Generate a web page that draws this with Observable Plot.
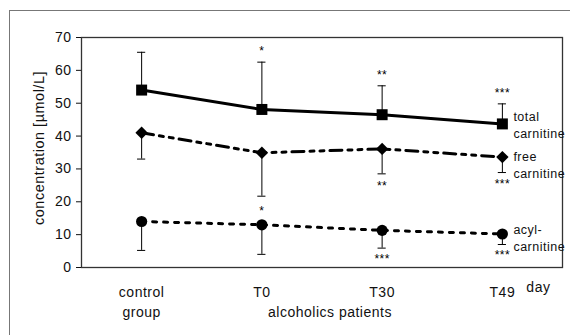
<!DOCTYPE html>
<html>
<head>
<meta charset="utf-8">
<script src="https://cdn.jsdelivr.net/npm/d3@7"></script>
<script src="https://cdn.jsdelivr.net/npm/@observablehq/plot@0.6"></script>
<style>
  html, body { margin: 0; padding: 0; background: #fff; }
  #wrap { position: relative; width: 570px; height: 335px; overflow: hidden; }
  #outer { position: absolute; left: 9px; top: 10px; width: 600px; height: 400px;
           border-left: 1px solid #777; border-top: 1px solid #777; }
  #chart { position: absolute; left: 0; top: 0; }
  #chart svg text { letter-spacing: 0.5px; }
</style>
</head>
<body>
<div id="wrap"><div id="outer"></div><div id="chart"></div></div>
<script>
const groups = ["control", "T0", "T30", "T49"];
const groupLabels = ["control\ngroup", "T0", "T30", "T49"];
const yTicks = [0, 10, 20, 30, 40, 50, 60, 70];

const totalMean  = [54, 48.1, 46.5, 43.7];
const totalUpper = [65.5, 62.5, 55.3, 49.8];
const totalStars = ["", "*", "**", "***"];

const freeMean  = [41, 34.9, 36.1, 33.6];
const freeLower = [33, 21.7, 28.5, 28.9];
const freeStars = ["", "", "**", "***"];

const acylMean  = [14, 13.0, 11.3, 10.2];
const acylLower = [5.2, 4.0, 5.9, 7.0];
const acylStarsAbove = ["", "*", "", ""];
const acylStarsBelow = ["", "", "***", "***"];

const seriesNames = ["total\ncarnitine", "free\ncarnitine", "acyl-\ncarnitine"];
const yLabel = "concentration [µmol/L]";
const xGroupLabel = "alcoholics patients";
const xUnit = "day";

const idx = groups.map((_, i) => i);
const cap = 0.034;
const font = "Liberation Sans, Arial, Helvetica, sans-serif";
const ink = "#000";

const chart = Plot.plot({
  width: 570, height: 335,
  marginLeft: 81, marginRight: 8, marginTop: 37, marginBottom: 68,
  style: { fontFamily: font, fontSize: "14px", color: "#111", background: "transparent" },
  x: { domain: [-0.5, 3.5], axis: null },
  y: { domain: [0, 70] },
  marks: [
    Plot.frame({ stroke: "#333", strokeWidth: 1.3 }),
    Plot.axisY({ ticks: yTicks, tickSize: 5, tickPadding: 5, fontSize: 14, label: null }),
    Plot.text([yLabel], { frameAnchor: "left", textAnchor: "middle", rotate: -90, dx: -42.5, dy: -4.5, fontSize: 14.5, fill: "#111" }),
    // lines
    Plot.line(idx, { x: i => i, y: i => totalMean[i], stroke: ink, strokeWidth: 3 }),
    Plot.line(idx, { x: i => i, y: i => freeMean[i], stroke: ink, strokeWidth: 3, strokeDasharray: "12,6,4,6,4,6" }),
    Plot.line(idx, { x: i => i, y: i => acylMean[i], stroke: ink, strokeWidth: 3, strokeDasharray: "4,7" }),
    // error bars
    Plot.ruleX(idx, { x: i => i, y1: i => totalMean[i], y2: i => totalUpper[i], stroke: ink, strokeWidth: 1 }),
    Plot.ruleY(idx, { y: i => totalUpper[i], x1: i => i - cap, x2: i => i + cap, stroke: ink, strokeWidth: 1 }),
    Plot.ruleX(idx, { x: i => i, y1: i => freeMean[i], y2: i => freeLower[i], stroke: ink, strokeWidth: 1 }),
    Plot.ruleY(idx, { y: i => freeLower[i], x1: i => i - cap, x2: i => i + cap, stroke: ink, strokeWidth: 1 }),
    Plot.ruleX(idx, { x: i => i, y1: i => acylMean[i], y2: i => acylLower[i], stroke: ink, strokeWidth: 1 }),
    Plot.ruleY(idx, { y: i => acylLower[i], x1: i => i - cap, x2: i => i + cap, stroke: ink, strokeWidth: 1 }),
    // markers
    Plot.dot(idx, { x: i => i, y: i => totalMean[i], symbol: "square", r: 6.2, fill: ink }),
    Plot.dot(idx, { x: i => i, y: i => freeMean[i], symbol: "diamond2", r: 5.6, fill: ink }),
    Plot.dot(idx, { x: i => i, y: i => acylMean[i], symbol: "circle", r: 5.6, fill: ink }),
    // significance stars
    Plot.text(idx, { x: i => i, y: i => totalUpper[i], text: i => totalStars[i], dy: -11, fontSize: 12, fill: ink }),
    Plot.text(idx, { x: i => i, y: i => freeLower[i], text: i => freeStars[i], dy: 12, fontSize: 12, fill: ink }),
    Plot.text(idx, { x: i => i, y: i => acylMean[i], text: i => acylStarsAbove[i], dy: -14, fontSize: 12, fill: ink }),
    Plot.text(idx, { x: i => i, y: i => acylLower[i], text: i => acylStarsBelow[i], dy: 11, fontSize: 12, fill: ink }),
    // series labels
    Plot.text([seriesNames[0]], { x: 3, y: totalMean[3], text: d => d, textAnchor: "start", dx: 11, dy: 0, fontSize: 12.5, lineHeight: 1.35, fill: "#111" }),
    Plot.text([seriesNames[1]], { x: 3, y: freeMean[3], text: d => d, textAnchor: "start", dx: 11, dy: 7, fontSize: 12.5, lineHeight: 1.35, fill: "#111" }),
    Plot.text([seriesNames[2]], { x: 3, y: acylMean[3], text: d => d, textAnchor: "start", dx: 11, dy: 3, fontSize: 12.5, lineHeight: 1.35, fill: "#111" }),
    // category labels
    Plot.text(idx, { x: i => i, y: 0, text: i => groupLabels[i], dy: 15, lineAnchor: "top", fontSize: 14, lineHeight: 1.45, fill: "#111" }),
    Plot.text([xUnit], { x: 3, y: 0, text: d => d, dx: 36, dy: 15, lineAnchor: "top", fontSize: 14, fill: "#111" }),
    Plot.text([xGroupLabel], { x: 1.5, y: 0, text: d => d, dx: 8, dy: 40, lineAnchor: "top", fontSize: 14, fill: "#111" })
  ]
});
document.getElementById("chart").appendChild(chart);
</script>
</body>
</html>
